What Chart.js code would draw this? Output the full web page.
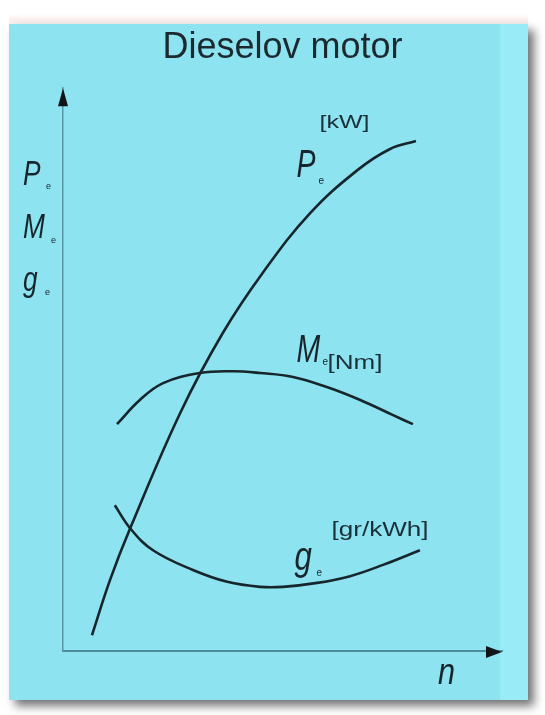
<!DOCTYPE html>
<html>
<head>
<meta charset="utf-8">
<script src="https://cdn.jsdelivr.net/npm/chart.js@4/dist/chart.umd.min.js"></script>
<style>
  html, body { margin:0; padding:0; background:#ffffff; overflow:hidden; }
  #page { position:absolute; left:0; top:0; width:545px; height:715px; background:#ffffff; }
  #band { position:absolute; left:9px; top:14px; width:519px; height:10px;
          background:linear-gradient(to bottom, #ffffff, #fbeeec 60%, #f4f0f0); }
  #panel { position:absolute; left:9px; top:24px; width:519px; height:676px;
           background:linear-gradient(to right, #8de3f0 0, #8de3f0 491px, #98ebf7 491px, #98ebf7 100%);
           box-shadow: 6px 6px 9px rgba(0,0,0,0.55); }
  #c { position:absolute; left:0; top:0; }
</style>
</head>
<body>
<div id="page">
  <div id="band"></div>
  <div id="panel"></div>
  <canvas id="c" width="545" height="715"></canvas>
</div>
<script>
// ---- data (relative units: n 0..100, value 0..100) ----
const powerN      = [6.6, 10.7, 15.3, 26.7, 36.4, 45.6, 56.3, 67.0, 74.5, 80.4];
const powerValues = [2.8, 12.6, 21.8, 42.3, 56.5, 67.3, 77.8, 85.4, 89.2, 90.6];

const torqueN      = [12.3, 17.5, 22.8, 31.2, 38.7, 44.9, 52.4, 60.1, 67.7, 75.2, 79.7];
const torqueValues = [40.3, 44.6, 47.6, 49.4, 49.7, 49.4, 48.7, 46.9, 44.6, 41.9, 40.3];

const consumptionN      = [11.8, 15.3, 20.5, 29.6, 37.4, 44.9, 50.1, 57.9, 65.4, 72.9, 81.3];
const consumptionValues = [25.9, 21.8, 17.9, 14.4, 12.3, 11.4, 11.4, 12.1, 13.3, 15.3, 17.9];

const titleText = 'Dieselov motor';
const axisLabelsY = ['P', 'M', 'g'];
const axisLabelX = 'n';
const units = { power: '[kW]', torque: '[Nm]', consumption: '[gr/kWh]' };

const toPoints = (xs, ys) => xs.map((x, i) => ({ x: x, y: ys[i] }));

const INK = '#17262c';
const italicFont = (s) => 'italic ' + s + 'px "Liberation Sans", Arial, sans-serif';
const plainFont = (s, w) => (w || 'normal') + ' ' + s + 'px "Liberation Sans", Arial, sans-serif';

function drawScaled(ctx, text, x, y, font, sx, color) {
  ctx.save();
  ctx.font = font;
  ctx.fillStyle = color || INK;
  ctx.textAlign = 'left';
  ctx.textBaseline = 'alphabetic';
  ctx.translate(x, y);
  ctx.scale(sx, 1);
  ctx.fillText(text, 0, 0);
  ctx.restore();
}
function drawFit(ctx, text, x, y, font, width, color) {
  ctx.save();
  ctx.font = font;
  const w = ctx.measureText(text).width;
  ctx.restore();
  drawScaled(ctx, text, x, y, font, width / w, color);
}

const decorPlugin = {
  id: 'decor',
  afterDraw(chart) {
    const ctx = chart.ctx;
    const xs = chart.scales.x, ys = chart.scales.y;
    const x0 = xs.getPixelForValue(0), xEnd = xs.getPixelForValue(100);
    const y0 = ys.getPixelForValue(0), yEnd = ys.getPixelForValue(100);

    // arrow heads
    ctx.save();
    ctx.fillStyle = '#101418';
    ctx.beginPath();
    ctx.moveTo(x0, yEnd);
    ctx.lineTo(x0 - 5, yEnd + 18);
    ctx.lineTo(x0 + 5, yEnd + 18);
    ctx.closePath();
    ctx.fill();
    ctx.beginPath();
    ctx.moveTo(xEnd, y0 + 1);
    ctx.lineTo(xEnd - 16, y0 - 5);
    ctx.lineTo(xEnd - 16, y0 + 7);
    ctx.closePath();
    ctx.fill();
    ctx.restore();

    // y-axis labels (left of the axis)
    const lx = x0 - 40;
    drawScaled(ctx, axisLabelsY[0], lx, yEnd + 97, italicFont(35), 0.75);
    drawScaled(ctx, 'e', lx + 23, yEnd + 101, plainFont(9), 1);
    drawScaled(ctx, axisLabelsY[1], lx, yEnd + 150, italicFont(35), 0.75);
    drawScaled(ctx, 'e', lx + 28, yEnd + 155, plainFont(9), 1);
    drawScaled(ctx, axisLabelsY[2], lx, yEnd + 203, italicFont(35), 0.75);
    drawScaled(ctx, 'e', lx + 22, yEnd + 207, plainFont(9), 1);

    // x-axis label
    drawScaled(ctx, axisLabelX, xEnd - 64, y0 + 33, italicFont(36), 0.85);

    // curve labels
    const px = xs.getPixelForValue(53.2);
    drawScaled(ctx, 'P', px, yEnd + 89, italicFont(38), 0.75);
    drawScaled(ctx, 'e', px + 22, yEnd + 96, plainFont(10), 1);
    drawFit(ctx, units.power, px + 23, yEnd + 40, plainFont(19), 50, '#1a3038');

    drawScaled(ctx, 'M', px, yEnd + 274, italicFont(38), 0.75);
    drawScaled(ctx, 'e', px + 26, yEnd + 277, plainFont(10), 1);
    drawFit(ctx, units.torque, px + 31, yEnd + 281, plainFont(21), 55, '#1a3038');

    drawScaled(ctx, 'g', px - 2, yEnd + 482, italicFont(40), 0.78);
    drawScaled(ctx, 'e', px + 20, yEnd + 488, plainFont(10), 1);
    drawFit(ctx, units.consumption, px + 35, yEnd + 448, plainFont(21), 97, '#1a3038');
  }
};

const lineStyle = {
  borderColor: INK,
  borderWidth: 2.6,
  pointRadius: 0,
  fill: false,
  tension: 0.4,
  showLine: true
};

new Chart(document.getElementById('c'), {
  type: 'line',
  data: {
    datasets: [
      Object.assign({ label: 'Pe [kW]', data: toPoints(powerN, powerValues) }, lineStyle),
      Object.assign({ label: 'Me [Nm]', data: toPoints(torqueN, torqueValues) }, lineStyle),
      Object.assign({ label: 'ge [gr/kWh]', data: toPoints(consumptionN, consumptionValues) }, lineStyle)
    ]
  },
  options: {
    responsive: false,
    devicePixelRatio: 1,
    animation: false,
    layout: { padding: { top: 16, left: 63, right: 43, bottom: 64 } },
    plugins: {
      legend: { display: false },
      tooltip: { enabled: false },
      title: {
        display: true,
        text: titleText,
        fullSize: false,
        color: '#1c2a30',
        font: { family: '"Liberation Sans", Arial, sans-serif', size: 36, weight: 'normal', lineHeight: 1.2 },
        padding: { top: 10, bottom: 19 }
      }
    },
    scales: {
      x: {
        type: 'linear', min: 0, max: 100,
        grid: { display: false, drawTicks: false },
        ticks: { display: false },
        border: { display: true, color: '#4f8d9b', width: 2 }
      },
      y: {
        type: 'linear', min: 0, max: 100,
        grid: { display: false, drawTicks: false },
        ticks: { display: false },
        border: { display: true, color: '#5b96a4', width: 1.5 }
      }
    }
  },
  plugins: [decorPlugin]
});
</script>
</body>
</html>
